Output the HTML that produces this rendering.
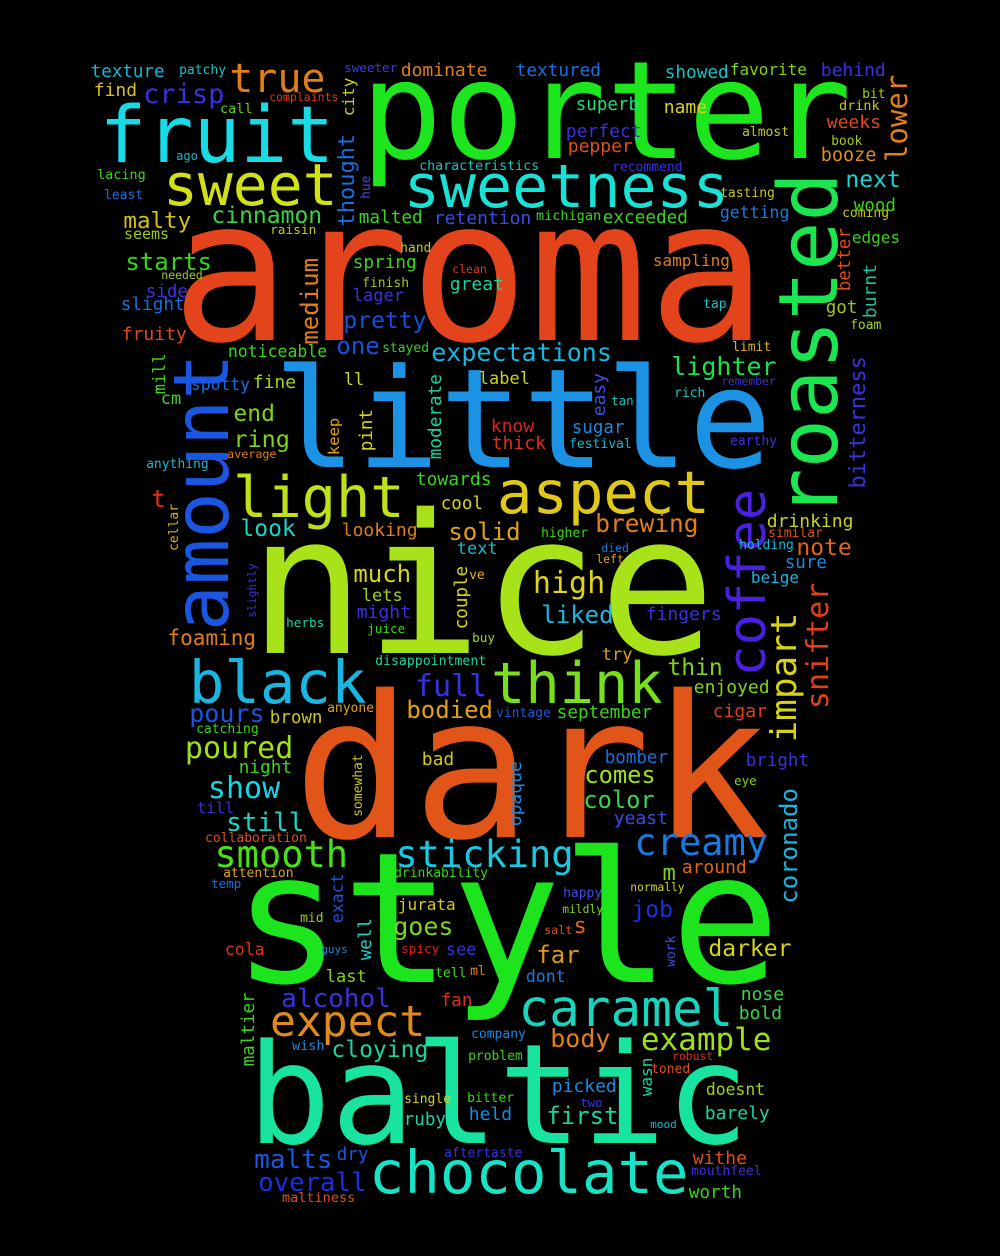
<!DOCTYPE html>
<html><head><meta charset="utf-8">
<style>
html,body{margin:0;padding:0;background:#000;}
svg{display:block;}
text{font-family:"DejaVu Sans Mono","Liberation Mono",monospace;}
</style></head>
<body>
<svg id="cloud" width="1000" height="1256" viewBox="0 0 1000 1256" xmlns="http://www.w3.org/2000/svg">
<rect x="0" y="0" width="1000" height="1256" fill="#000"/>
</svg>
<script>
const words = ["porter","aroma","little","nice","dark","style","baltic","chocolate","roasted","sweetness","fruit","sweet","true","crisp","texture","patchy","find","sweeter","dominate","complaints","call","city","textured","showed","favorite","behind","lower","superb","name","bit","drink","weeks","almost","perfect","pepper","book","booze","characteristics","recommend","next","tasting","wood","coming","getting","exceeded","michigan","retention","malted","cinnamon","thought","hue","ago","lacing","least","malty","seems","raisin","hand","starts","needed","spring","clean","medium","finish","great","side","lager","slight","pretty","fruity","one","stayed","noticeable","expectations","label","ll","lighter","limit","remember","rich","easy","tan","tap","sampling","better","edges","burnt","got","foam","bitterness","know","thick","sugar","festival","earthy","moderate","pint","keep","mill","cm","spotty","fine","end","ring","amount","anything","average","light","aspect","t","cellar","towards","cool","look","looking","solid","text","much","ve","couple","lets","might","slightly","herbs","juice","buy","foaming","disappointment","black","full","think","pours","brown","anyone","bodied","vintage","september","catching","poured","night","bad","show","somewhat","till","still","collaboration","opaque","smooth","sticking","creamy","coronado","impart","coffee","snifter","brewing","higher","drinking","similar","holding","note","died","left","sure","beige","high","liked","fingers","try","thin","enjoyed","cigar","bomber","bright","comes","eye","color","yeast","m","around","happy","normally","mildly","job","salt","s","work","far","darker","dont","nose","bold","caramel","company","body","example","problem","robust","toned","wasn","doesnt","picked","two","bitter","held","first","barely","mood","aftertaste","withe","mouthfeel","worth","single","ruby","attention","drinkability","temp","exact","jurata","mid","goes","well","cola","guys","spicy","see","last","tell","ml","alcohol","fan","expect","maltier","wish","cloying","malts","dry","overall","maltiness"];
const sizes = [136,198,138,194,198,182,139,59,82,60,78,58,40,27,17.5,13,18,12.6,18,11.5,13.5,16,17.7,17.7,16,18,29,17.5,18,13,13.5,18,13,18,18,13,18.5,13.3,13,23,13,17.5,13,16.5,17.7,13.5,18,17.7,23,22,13,12,13.5,13,22.5,15,12.8,13,24,11.5,17.7,11.5,24,13,18,17.5,17,17.7,23,18,24,13,16.5,25,17,17,25,13,11.3,13,18,12.5,13,16,17.5,16,18,17.5,13,22,18,18,17.5,13,13,17.7,17.5,15.5,17,17,16.4,18,23,23.5,77,13,11.7,57,59,24,13,18,17.5,23,18,24,17,24,13,17.5,17,18,11.3,12.7,12.7,12.7,21,13.2,59,30,57,25,17.5,13,24,13,17.6,13,30,17.7,18,30,13,15.5,26,13,18,37,37,37,24,36,52,30,24.5,13,18,13,13,23,11.5,11.5,17.5,16,30,24,18,17,23,18,18,17.5,17.5,23.7,12.5,23.7,18,22,18,13,11.3,11.3,23,11.7,22,13,24,23,16.5,18,18,51,13,25,31,13,11.3,13,16,16.4,18,12.5,13,18,24,18,11,13,18,13,17.7,13,17.5,13,13,12.5,16.5,16,13,25,17.5,16.5,11,12.7,17,17,13,13,26,17.5,43,17.5,13.5,23,26,17.5,25.7,13.5];
const anchors = [[370,158],[185,340],[283,467],[262,653],[307,837],[245,982],[257,1143],[373,1193],[837,512],[408,207],[105,162],[167,205],[232,92],[145,103],[92,77],[180,74],[95,96],[345,72],[402,76],[270,101],[221,113],[354,115],[517,76],[666,78],[731,75],[822,76],[907,160],[577,110],[665,113],[863,98],[840,110],[828,128],[743,136],[567,137],[569,152],[832,145],[822,161],[420,170],[613,171],[847,187],[721,197],[855,211],[843,217],[721,218],[604,223],[537,220],[435,224],[360,223],[213,223],[354,225],[370,198],[177,160],[98,179],[105,199],[125,228],[125,239],[271,234],[401,252],[127,270],[162,279],[354,268],[453,273],[318,343],[363,287],[451,290],[147,297],[354,301],[122,310],[345,328],[123,340],[338,354],[383,352],[229,357],[433,361],[480,384],[345,385],[673,375],[733,351],[722,385],[675,397],[605,415],[612,405],[704,308],[654,266],[850,290],[853,243],[876,317],[827,313],[851,329],[865,487],[492,432],[493,449],[573,433],[570,448],[731,445],[441,458],[372,450],[339,454],[165,393],[162,404],[192,390],[254,388],[235,421],[235,447],[228,626],[147,468],[228,458],[237,517],[501,513],[153,507],[178,550],[417,485],[442,509],[242,536],[343,536],[450,540],[458,554],[355,582],[470,579],[467,628],[363,601],[358,618],[256,617],[287,627],[368,633],[473,642],[169,645],[376,665],[193,703],[417,696],[495,703],[191,722],[271,723],[328,712],[408,718],[497,717],[558,718],[197,733],[187,758],[240,773],[423,765],[210,798],[362,816],[198,813],[228,831],[206,842],[521,825],[217,867],[398,867],[637,855],[797,902],[796,740],[765,673],[828,707],[597,532],[542,537],[768,527],[769,537],[740,549],[798,555],[602,552],[597,563],[786,568],[752,583],[535,593],[543,623],[647,620],[603,660],[669,675],[695,693],[714,717],[606,763],[747,766],[586,783],[735,785],[585,808],[615,824],[664,880],[683,873],[564,897],[631,891],[563,913],[633,917],[545,934],[575,933],[675,966],[538,963],[710,956],[527,982],[742,1000],[740,1019],[522,1026],[472,1038],[552,1047],[643,1050],[469,1060],[673,1060],[652,1073],[652,1095],[707,1095],[553,1092],[581,1107],[468,1102],[470,1120],[548,1124],[706,1119],[651,1128],[445,1157],[694,1164],[692,1175],[690,1198],[405,1103],[405,1125],[224,877],[395,877],[212,888],[343,922],[399,910],[301,922],[395,935],[371,959],[226,955],[322,953],[402,953],[447,955],[327,982],[436,977],[471,975],[283,1007],[442,1006],[273,1036],[254,1065],[293,1050],[333,1057],[256,1168],[338,1160],[260,1191],[283,1202]];
const vertical = ["roasted","city","lower","thought","hue","medium","easy","better","burnt","bitterness","moderate","pint","keep","mill","amount","cellar","couple","slightly","somewhat","opaque","coronado","impart","coffee","snifter","work","wasn","exact","well","maltier"];
const colors = ["#1de51e","#e4441c","#1b92e3","#a8e31a","#e25519","#1ce51e","#19e3a0","#19e3c7","#1be54f","#1ae0d6","#18dbe6","#d0e115","#e07e1b","#3b30e0","#1ab5d4","#1ac3c3","#d5c01a","#3b3be0","#e07e1b","#e03a1a","#5ed41a","#c8d41a","#1a6fe0","#1ac3c3","#7ed41a","#3b30e0","#e07e1b","#1ae07a","#d5d41a","#a0d41a","#c8c81a","#e04a1a","#c8c81a","#3b30e0","#e0501a","#a0c81a","#e08a1a","#1ac3c3","#3b30e0","#1ad4d4","#c8c81a","#3ad41a","#c8c81a","#1a7ae0","#3ad41a","#3ad41a","#3b4ee0","#3ad41a","#3ad448","#1a6fe0","#3b4ee0","#1ab5d4","#3ad41a","#1a6fe0","#d5c01a","#a0c81a","#c8c81a","#c8c81a","#3ad41a","#a0c81a","#3ad41a","#e03a1a","#e07e1b","#a0c81a","#1ad4a0","#3b30e0","#3b30e0","#1a6fe0","#1a4ee0","#e04a1a","#1a4ee0","#3ad41a","#3ad41a","#1ab5e0","#c8d41a","#c8d41a","#1ae050","#e0b01a","#3b30e0","#1ac3c3","#3b4ee0","#1ac3c3","#1ac3c3","#e07e1b","#e04a1a","#3ad41a","#1ac3a0","#a0c81a","#a0d41a","#3b30e0","#e0201a","#e0301a","#1a8ae0","#1ab5d4","#3b30e0","#1ad4a0","#d5d41a","#e0a01a","#3ad41a","#3ad41a","#1a6fe0","#a0d41a","#7ed41a","#7ed41a","#1a56e0","#1ab5d4","#e07e1b","#c0e01a","#e0c81a","#e0301a","#d5b01a","#3ad41a","#d5d41a","#1ad4c8","#e07e1b","#e0a01a","#1ab5d4","#d5d41a","#e0b01a","#d5d41a","#a0d41a","#3b30e0","#3b30e0","#1ad4a0","#3ad41a","#a0d41a","#e07e1b","#1ad4a0","#1ab5e0","#3b30e0","#78e01a","#1a56e0","#c8c81a","#e0a01a","#e0a01a","#1a56e0","#3ad41a","#3ad41a","#a0e01a","#3ad41a","#d5c81a","#1ad4e0","#c8c81a","#3b30e0","#1ad4c8","#e0501a","#1a8ae0","#4ae01a","#1ac8e0","#1a7ae0","#1ab5e0","#d5d41a","#4a20e0","#e0401a","#e07e1b","#3ad41a","#c8d41a","#e0501a","#1ab5d4","#e0641a","#1a7ae0","#e0a01a","#1a8ae0","#1ab5e0","#e0d41a","#1ab5e0","#3b30e0","#e0a01a","#7ed41a","#7ed41a","#e0401a","#1a6fe0","#3b30e0","#a0e01a","#7ed41a","#3ad448","#3b4ee0","#7ed41a","#e0641a","#3b4ee0","#d5d41a","#7ed41a","#1a30e0","#e0501a","#e0641a","#3b4ee0","#e09a1a","#d5d41a","#1a7ae0","#3ad448","#3ad448","#1ad4c0","#1a8ae0","#e07e1b","#a0e01a","#3ad41a","#e0301a","#e0501a","#1ad4a0","#a0d41a","#1a8ae0","#3b30e0","#3ad41a","#1a8ae0","#1ad4a0","#1ad4a0","#1ab5d4","#3b30e0","#e0501a","#3b30e0","#3ad41a","#d5d41a","#1ad4a0","#e0a01a","#3ad41a","#1a6fe0","#1a56e0","#d5c81a","#a0c81a","#7ed41a","#1ad4c8","#e0301a","#1a8ae0","#e0201a","#3b30e0","#7ed41a","#3ad41a","#e07e1b","#3b30e0","#e0301a","#e08a1a","#3ad41a","#1a8ae0","#1ad4a0","#1a56e0","#1a56e0","#1a30e0","#e0501a"];

const svg = document.getElementById('cloud');
const NS = 'http://www.w3.org/2000/svg';
words.forEach(function(w, i){
  const fs = sizes[i];
  const a = anchors[i];
  const t = document.createElementNS(NS, 'text');
  t.textContent = w;
  t.setAttribute('font-size', fs);
  t.setAttribute('fill', colors[i]);
  if (vertical.indexOf(w) >= 0) {
    t.setAttribute('transform', 'translate(' + a[0] + ',' + (a[1] + 0.07 * fs) + ') rotate(-90)');
    t.setAttribute('x', 0);
    t.setAttribute('y', 0);
  } else {
    t.setAttribute('x', a[0] - 0.07 * fs);
    t.setAttribute('y', a[1]);
  }
  
  
  svg.appendChild(t);
});
</script>
</body></html>
